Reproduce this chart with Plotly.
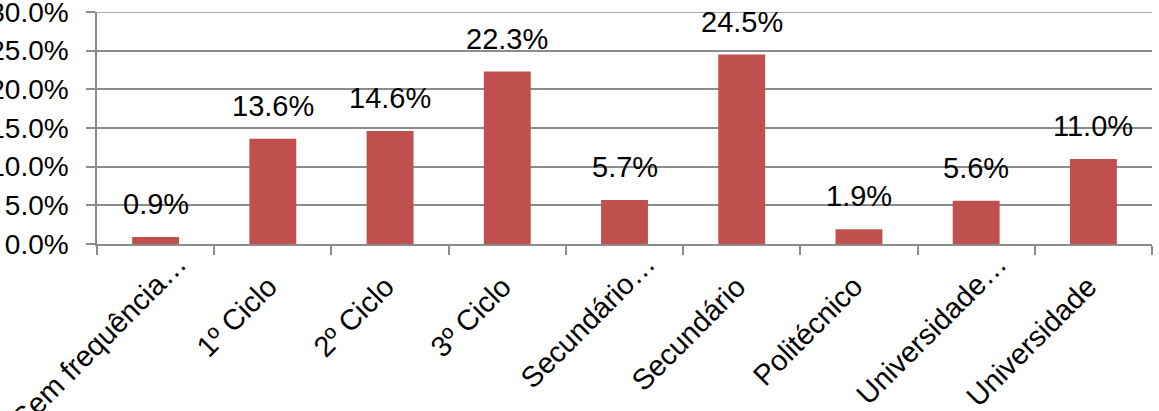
import plotly.graph_objects as go

categories = ["Sem frequência…", "1º Ciclo", "2º Ciclo", "3º Ciclo", "Secundário…",
              "Secundário", "Politécnico", "Universidade…", "Universidade"]
values = [0.9, 13.6, 14.6, 22.3, 5.7, 24.5, 1.9, 5.6, 11.0]
y_ticks = [0, 5, 10, 15, 20, 25, 30]
y_tick_labels = [f"{v:.1f}%" for v in y_ticks]

FONT = "Liberation Sans, Arial, sans-serif"
GRID = "#8c8c8c"

fig = go.Figure()
fig.add_trace(go.Bar(
    x=categories, y=values,
    marker=dict(color="#C0504D", line=dict(width=0)),
    width=0.4,
    hoverinfo="skip",
))

# data labels above bars
for c, v in zip(categories, values):
    fig.add_annotation(x=c, y=v, text=f"{v:.1f}%", showarrow=False,
                       yanchor="bottom", yshift=15,
                       font=dict(family=FONT, size=29, color="#000000"))

# rotated category labels (truncated labels sit a little further up-right)
for c in categories:
    truncated = c.endswith("…")
    fig.add_annotation(x=c, y=0, xref="x", yref="paper", text=c,
                       showarrow=False, textangle=-45,
                       xanchor="right", yanchor="top", borderpad=0,
                       xshift=38 if truncated else 11,
                       yshift=-2 if truncated else -25,
                       font=dict(family=FONT, size=29, color="#000000"))

fig.add_hline(y=y_ticks[-1], line=dict(color=GRID, width=1.5), layer="below")

fig.update_layout(
    width=1159, height=411,
    margin=dict(l=97, r=7, t=12, b=167, autoexpand=False),
    paper_bgcolor="white", plot_bgcolor="white",
    showlegend=False,
    font=dict(family=FONT, size=28, color="#000000"),
)
fig.update_xaxes(
    type="category",
    range=[-0.5, len(categories) - 0.5],
    automargin=False,
    tickson="boundaries",
    ticks="outside", ticklen=9, tickcolor=GRID, tickwidth=1.5,
    showline=True, linecolor=GRID, linewidth=1.5,
    showgrid=False,
    showticklabels=False,
)
fig.update_yaxes(
    range=[0, 30.0001],
    automargin=False,
    tickvals=y_ticks, ticktext=y_tick_labels,
    ticks="outside", ticklen=9, tickcolor=GRID, tickwidth=1.5,
    showline=True, linecolor=GRID, linewidth=1.5,
    showgrid=True, gridcolor=GRID, gridwidth=1.5,
    zeroline=False,
    ticklabelstandoff=12,
    ticklabeloverflow="allow",
    tickfont=dict(family=FONT, size=28, color="#000000"),
)

fig.write_html("out.html")
